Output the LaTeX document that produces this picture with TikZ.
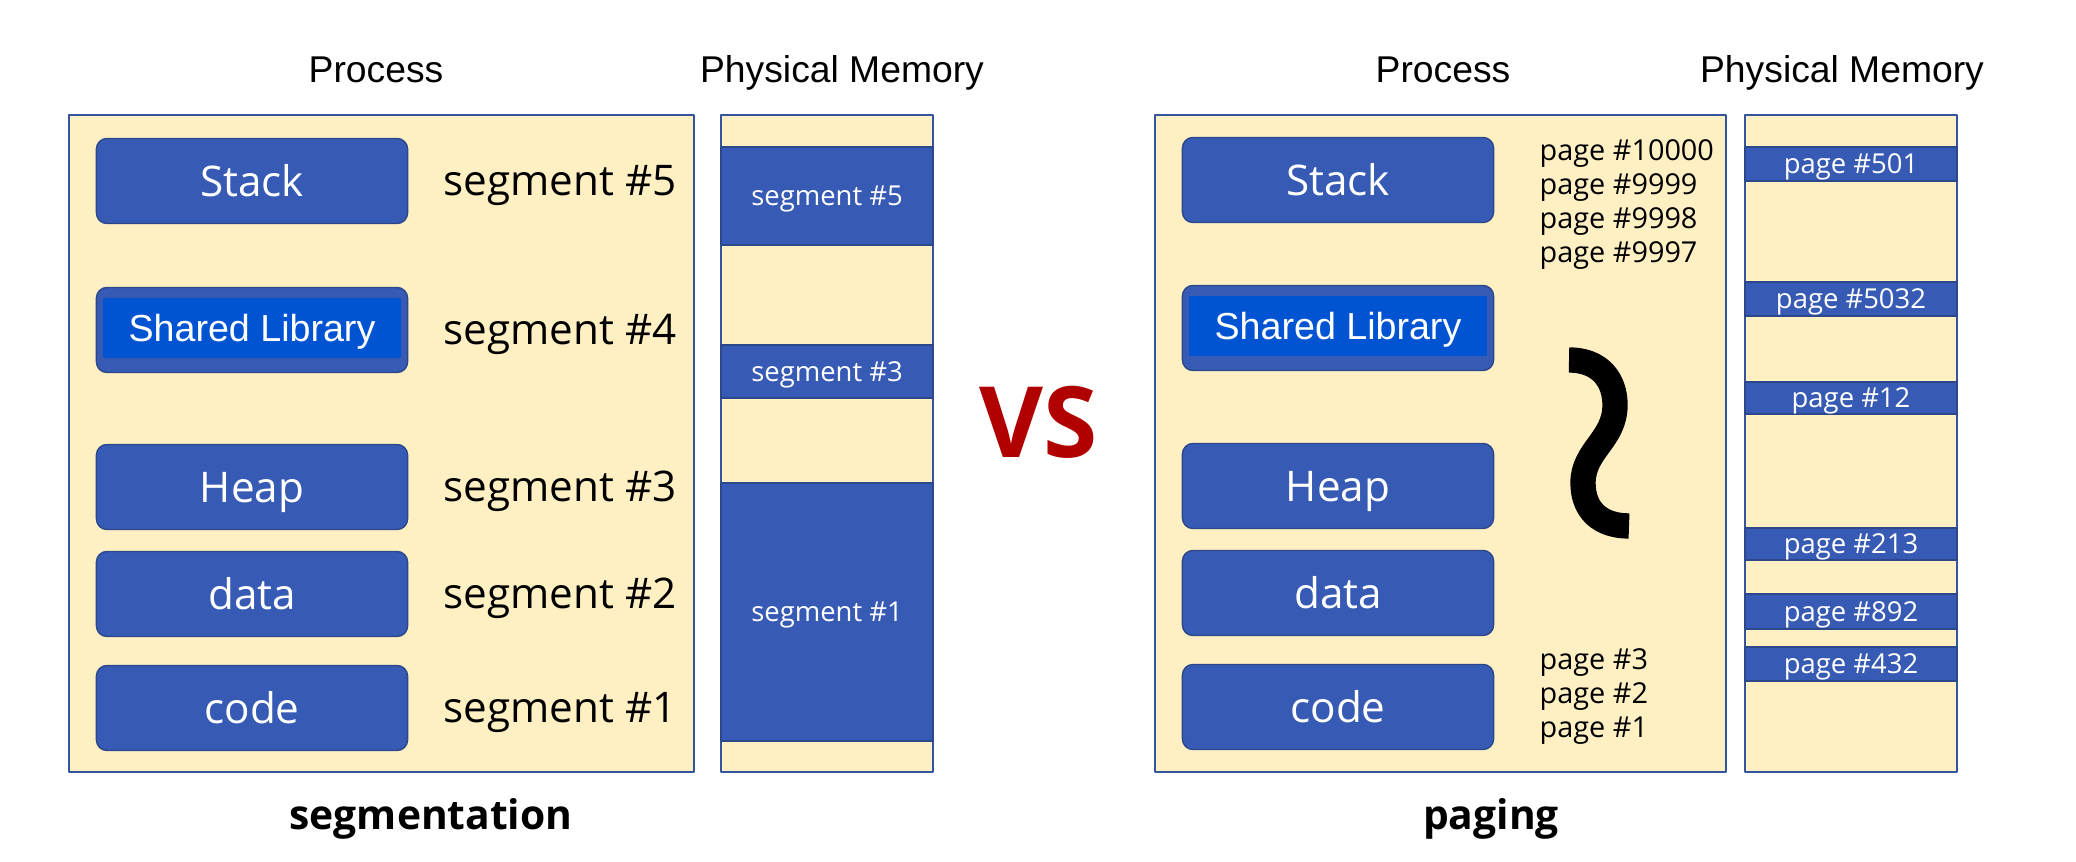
\documentclass[tikz,border=0pt]{standalone}
\usepackage{fontspec}
\setmainfont{Open Sans}
\newfontfamily\arialfont{Liberation Sans}
\definecolor{paper}{RGB}{255,240,196}
\definecolor{blockblue}{RGB}{55,91,180}
\definecolor{libblue}{RGB}{0,84,210}
\definecolor{edgeblue}{RGB}{44,72,138}
\definecolor{frameblue}{RGB}{52,84,158}
\definecolor{vsred}{RGB}{176,0,0}

\begin{document}
\begin{tikzpicture}[x=0.01cm, y=-0.01cm, line join=round,
	procframe/.style={draw=frameblue, line width=0.6pt, fill=paper},
	blockbox/.style={draw=edgeblue, line width=0.4pt, fill=blockblue, rounded corners=3pt,
		minimum width=3.11cm, minimum height=0.85cm, inner sep=0pt, text=white,
		font=\fontsize{12}{14}\selectfont, text height=8.8pt, text depth=0pt},
	libbox/.style={fill=libblue, minimum width=2.97cm, minimum height=0.60cm, inner sep=0pt,
		text=white, font=\arialfont\fontsize{10.7}{12}\selectfont, text height=7.7pt, text depth=0pt},
	seglabel/.style={anchor=base west, inner sep=0pt, font=\fontsize{12}{14}\selectfont},
	bandbox/.style={draw=edgeblue, line width=0.4pt, fill=blockblue, minimum width=2.12cm,
		inner sep=0pt, text=white, font=\fontsize{7.8}{9}\selectfont, text height=5.6pt, text depth=0pt},
	pagelabel/.style={anchor=base west, inner sep=0pt, font=\fontsize{8.2}{10}\selectfont},
	headtitle/.style={anchor=base, inner sep=0pt, font=\arialfont\fontsize{10.6}{12}\selectfont},
	captext/.style={anchor=base, inner sep=0pt, font=\bfseries\fontsize{11.6}{14}\selectfont}]
	\useasboundingbox (0,0) rectangle (2076,862);

	% === SEGMENTATION ===
	\node[headtitle] (procL) at (376,83) {Process};
	\node[headtitle] (memL) at (842,83) {Physical Memory};
	\draw[procframe] (69,115) rectangle (694,772);
	\node[blockbox] (stackL) at (252,181) {Stack};
	\node[blockbox] (libL) at (252,330) {};
	\node[libbox] (libLtxt) at (252,328) {Shared Library};
	\node[blockbox] (heapL) at (252,487) {Heap};
	\node[blockbox] (dataL) at (252,594) {data};
	\node[blockbox] (codeL) at (252,708) {code};
	\foreach \y/\s in {196/5, 345/4, 502/3, 609/2, 723/1} {
		\node[seglabel] (seg\s) at (443,\y) {segment \#\s};
	}
	\draw[procframe, line width=0.5pt] (721,115) rectangle (933,772);
	\foreach \t/\b/\s in {147/245/5, 345/398/3, 483/741/1} {
		\node[bandbox, minimum height={(\b-\t)*0.01cm}] (mseg\s) at (827,{(\t+\b)/2}) {segment \#\s};
	}
	\node[captext] (segcap) at (431,830) {segmentation};

	% === VS ===
	\node[inner sep=0pt, text=vsred, font=\bfseries\fontsize{28}{30}\selectfont] (vs) at (1039,422) {VS};

	% === PAGING ===
	\node[headtitle] (procR) at (1443,83) {Process};
	\node[headtitle] (memR) at (1842,83) {Physical Memory};
	\draw[procframe] (1155,115) rectangle (1726,772);
	\node[blockbox] (stackR) at (1338,180) {Stack};
	\node[blockbox] (libR) at (1338,328) {};
	\node[libbox] (libRtxt) at (1338,326) {Shared Library};
	\node[blockbox] (heapR) at (1338,486) {Heap};
	\node[blockbox] (dataR) at (1338,593) {data};
	\node[blockbox] (codeR) at (1338,707) {code};
	\foreach \n [count=\i] in {10000,9999,9998,9997} {
		\node[pagelabel] (pg\n) at (1539,{161+34*(\i-1)}) {page \#\n};
	}
	\foreach \n [count=\i] in {3,2,1} {
		\node[pagelabel] (pg\n) at (1539,{670+34*(\i-1)}) {page \#\n};
	}
	\draw[line width=7.2pt] (1569,360) .. controls (1600,360) and (1615,380) .. (1615,405)
		.. controls (1615,440) and (1583,450) .. (1583,483)
		.. controls (1583,510) and (1600,526) .. (1629,526);
	\draw[procframe, line width=0.5pt] (1745,115) rectangle (1957,772);
	\foreach \t/\b/\p in {147/181/501, 282/316/5032, 382/414/12, 528/560/213, 594/629/892, 647/681/432} {
		\node[bandbox, minimum height={(\b-\t)*0.01cm}] (mpg\p) at (1851,{(\t+\b)/2}) {page \#\p};
	}
	\node[captext] (pagecap) at (1491,830) {paging};
\end{tikzpicture}
\end{document}
